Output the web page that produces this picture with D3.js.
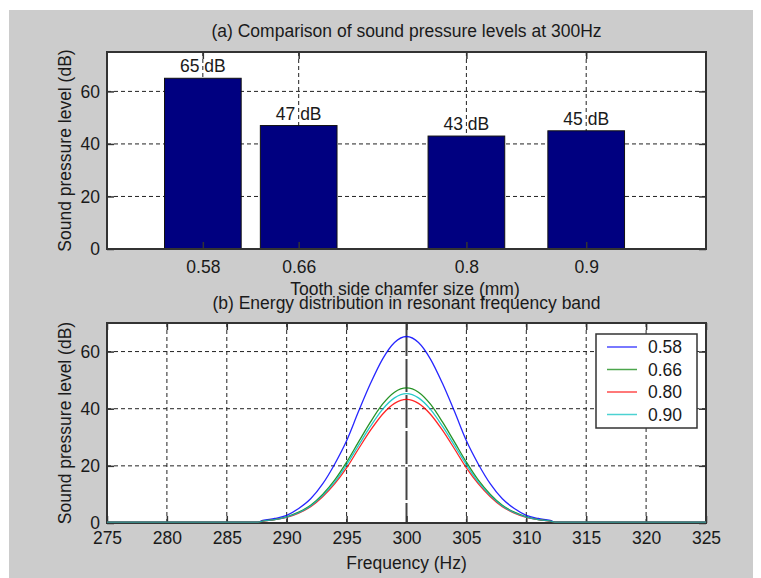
<!DOCTYPE html>
<html>
<head>
<meta charset="utf-8">
<script src="https://cdn.jsdelivr.net/npm/d3@7"></script>
<style>
  body { margin: 0; background: #fff; }
  text { font-family: "Liberation Sans", Arial, sans-serif; fill: #1a1a1a; }
</style>
</head>
<body>
<svg id="chart" width="761" height="578"></svg>
<script>
// ---------- Data ----------
const categories = [0.58, 0.66, 0.8, 0.9];
const categoryLabels = ["0.58", "0.66", "0.8", "0.9"];
const barValues = [65, 47, 43, 45];
const barLabels = ["65 dB", "47 dB", "43 dB", "45 dB"];
const barYTicks = [0, 20, 40, 60];

const freq = [275, 287.5, 288, 289, 290, 291, 292, 293, 294, 295, 296, 297, 298, 299, 300,
              301, 302, 303, 304, 305, 306, 307, 308, 309, 310, 311, 312, 312.5, 325];
const spl058 = [0, 0, 0.6, 1.3, 2.4, 4.8, 8.2, 13.4, 20.3, 28.5, 38.8, 48.6, 57.1, 62.9, 65,
                62.9, 57.1, 48.6, 38.8, 28.5, 20.3, 13.4, 8.2, 4.8, 2.4, 1.3, 0.6, 0, 0];
const spl066 = [0, 0, 0.4, 0.9, 1.9, 3.5, 5.9, 9.7, 14.7, 21.0, 28.1, 35.1, 41.3, 45.5, 47,
                45.5, 41.3, 35.1, 28.1, 21.0, 14.7, 9.7, 5.9, 3.5, 1.9, 0.9, 0.4, 0, 0];
const spl080 = [0, 0, 0.4, 0.9, 1.7, 3.2, 5.4, 8.9, 13.4, 19.0, 25.7, 32.2, 37.8, 41.6, 43,
                41.6, 37.8, 32.2, 25.7, 19.0, 13.4, 8.9, 5.4, 3.2, 1.7, 0.9, 0.4, 0, 0];
const spl090 = [0, 0, 0.4, 0.9, 1.8, 3.3, 5.7, 9.3, 14.0, 20.1, 26.9, 33.6, 39.5, 43.5, 45,
                43.5, 39.5, 33.6, 26.9, 20.1, 14.0, 9.3, 5.7, 3.3, 1.8, 0.9, 0.4, 0, 0];
const seriesNames = ["0.58", "0.66", "0.80", "0.90"];
const seriesColors = ["#0000ff", "#008000", "#ff0000", "#00bfbf"];
const freqTicks = [275, 280, 285, 290, 295, 300, 305, 310, 315, 320, 325];
const lineYTicks = [0, 20, 40, 60];

// ---------- Layout ----------
const svg = d3.select("#chart");
const FS = "17.5px";
svg.append("rect").attr("x", 9).attr("y", 10).attr("width", 744).attr("height", 568).attr("fill", "#cccccc");

const A = {left: 107, right: 706, top: 52, bottom: 249};
const B = {left: 107, right: 706, top: 323, bottom: 523};

// ---------- Top chart (bars) ----------
const xA = d3.scaleLinear().domain([0.5, 1.0]).range([A.left, A.right]);
const yA = d3.scaleLinear().domain([0, 75]).range([A.bottom, A.top]);
const gA = svg.append("g");
gA.append("rect").attr("x", A.left).attr("y", A.top).attr("width", A.right - A.left)
  .attr("height", A.bottom - A.top).attr("fill", "#fff");

// grid
gA.append("g").selectAll("line").data(categories).join("line")
  .attr("x1", d => xA(d)).attr("x2", d => xA(d)).attr("y1", A.top).attr("y2", A.bottom)
  .attr("stroke", "#222").attr("stroke-width", 1).attr("stroke-dasharray", "4,3");
gA.append("g").selectAll("line").data(barYTicks.filter(d => d > 0)).join("line")
  .attr("x1", A.left).attr("x2", A.right).attr("y1", d => yA(d)).attr("y2", d => yA(d))
  .attr("stroke", "#222").attr("stroke-width", 1).attr("stroke-dasharray", "4,3");

// bars
const barW = 0.064;
gA.append("g").selectAll("rect").data(barValues).join("rect")
  .attr("x", (d, i) => xA(categories[i] - barW / 2))
  .attr("width", (d, i) => xA(categories[i] + barW / 2) - xA(categories[i] - barW / 2))
  .attr("y", d => yA(d)).attr("height", d => yA(0) - yA(d))
  .attr("fill", "#000080").attr("stroke", "#111").attr("stroke-width", 1);

// bar labels
gA.append("g").selectAll("text").data(barValues).join("text")
  .attr("x", (d, i) => xA(categories[i])).attr("y", d => yA(d) - 6)
  .attr("text-anchor", "middle").style("font-size", FS).text((d, i) => barLabels[i]);

// axes
const tickLen = 7;
const axBottomA = d3.axisBottom(xA).tickValues(categories).tickFormat((d, i) => categoryLabels[i])
  .tickSizeInner(-tickLen).tickSizeOuter(0).tickPadding(12);
const axTopA = d3.axisTop(xA).tickValues(categories).tickFormat("").tickSizeInner(-tickLen).tickSizeOuter(0);
const axLeftA = d3.axisLeft(yA).tickValues(barYTicks).tickSizeInner(-tickLen).tickSizeOuter(0).tickPadding(7);
const axRightA = d3.axisRight(yA).tickValues(barYTicks).tickFormat("").tickSizeInner(-tickLen).tickSizeOuter(0);

function styleAxis(g) {
  g.select(".domain").remove();
  g.selectAll(".tick line").attr("stroke", "#333").attr("stroke-width", 1.5);
  g.selectAll(".tick text").style("font-size", FS).attr("fill", "#1a1a1a")
    .style("font-family", "'Liberation Sans', Arial, sans-serif");
}
gA.append("g").attr("transform", `translate(0,${A.bottom})`).call(axBottomA).call(styleAxis);
gA.append("g").attr("transform", `translate(0,${A.top})`).call(axTopA).call(styleAxis);
gA.append("g").attr("transform", `translate(${A.left},0)`).call(axLeftA).call(styleAxis);
gA.append("g").attr("transform", `translate(${A.right},0)`).call(axRightA).call(styleAxis);
gA.append("rect").attr("x", A.left).attr("y", A.top).attr("width", A.right - A.left)
  .attr("height", A.bottom - A.top).attr("fill", "none").attr("stroke", "#333").attr("stroke-width", 2);

svg.append("text").attr("x", (A.left + A.right) / 2).attr("y", 37).attr("text-anchor", "middle")
  .style("font-size", FS).text("(a) Comparison of sound pressure levels at 300Hz");
svg.append("text").attr("x", 405).attr("y", 295).attr("text-anchor", "middle")
  .style("font-size", FS).text("Tooth side chamfer size (mm)");
svg.append("text").attr("transform", `translate(71,${(A.top + A.bottom) / 2}) rotate(-90)`)
  .attr("text-anchor", "middle").style("font-size", FS).text("Sound pressure level (dB)");

// ---------- Bottom chart (lines) ----------
const xB = d3.scaleLinear().domain([275, 325]).range([B.left, B.right]);
const yB = d3.scaleLinear().domain([0, 70]).range([B.bottom, B.top]);
const gB = svg.append("g");
gB.append("rect").attr("x", B.left).attr("y", B.top).attr("width", B.right - B.left)
  .attr("height", B.bottom - B.top).attr("fill", "#fff");

gB.append("g").selectAll("line").data(freqTicks.filter(d => d > 275 && d < 325 && d !== 300)).join("line")
  .attr("x1", d => xB(d)).attr("x2", d => xB(d)).attr("y1", B.top).attr("y2", B.bottom)
  .attr("stroke", "#222").attr("stroke-width", 1).attr("stroke-dasharray", "4,3");
gB.append("g").selectAll("line").data(lineYTicks.filter(d => d > 0)).join("line")
  .attr("x1", B.left).attr("x2", B.right).attr("y1", d => yB(d)).attr("y2", d => yB(d))
  .attr("stroke", "#222").attr("stroke-width", 1).attr("stroke-dasharray", "4,3");
// long-dash marker at 300 Hz
gB.append("line").attr("x1", xB(300)).attr("x2", xB(300)).attr("y1", B.top).attr("y2", B.bottom)
  .attr("stroke", "#444").attr("stroke-width", 2).attr("stroke-dasharray", "33,3");

const axBottomB = d3.axisBottom(xB).tickValues(freqTicks).tickSizeInner(-tickLen).tickSizeOuter(0).tickPadding(9);
const axTopB = d3.axisTop(xB).tickValues(freqTicks).tickFormat("").tickSizeInner(-tickLen).tickSizeOuter(0);
const axLeftB = d3.axisLeft(yB).tickValues(lineYTicks).tickSizeInner(-tickLen).tickSizeOuter(0).tickPadding(7);
const axRightB = d3.axisRight(yB).tickValues(lineYTicks).tickFormat("").tickSizeInner(-tickLen).tickSizeOuter(0);
gB.append("g").attr("transform", `translate(0,${B.bottom})`).call(axBottomB).call(styleAxis);
gB.append("g").attr("transform", `translate(0,${B.top})`).call(axTopB).call(styleAxis);
gB.append("g").attr("transform", `translate(${B.left},0)`).call(axLeftB).call(styleAxis);
gB.append("g").attr("transform", `translate(${B.right},0)`).call(axRightB).call(styleAxis);
gB.append("rect").attr("x", B.left).attr("y", B.top).attr("width", B.right - B.left)
  .attr("height", B.bottom - B.top).attr("fill", "none").attr("stroke", "#333").attr("stroke-width", 2);

const allSeries = [spl058, spl066, spl080, spl090];
const line = d3.line().x((d, i) => xB(freq[i])).y(d => yB(d) - 0.8).curve(d3.curveMonotoneX);
gB.append("g").selectAll("path").data(allSeries).join("path")
  .attr("d", d => line(d)).attr("fill", "none")
  .attr("stroke", (d, i) => seriesColors[i]).attr("stroke-width", 1.3).attr("stroke-opacity", 0.85);

svg.append("text").attr("x", (B.left + B.right) / 2).attr("y", 309).attr("text-anchor", "middle")
  .style("font-size", FS).text("(b) Energy distribution in resonant frequency band");
svg.append("text").attr("x", (B.left + B.right) / 2).attr("y", 569).attr("text-anchor", "middle")
  .style("font-size", FS).text("Frequency (Hz)");
svg.append("text").attr("transform", `translate(71,${(B.top + B.bottom) / 2}) rotate(-90)`)
  .attr("text-anchor", "middle").style("font-size", FS).text("Sound pressure level (dB)");

// legend
const lg = svg.append("g");
lg.append("rect").attr("x", 596).attr("y", 334).attr("width", 101).attr("height", 94)
  .attr("fill", "#fff").attr("stroke", "#333").attr("stroke-width", 1.5);
const rowY = [347, 369.5, 392, 414.5];
seriesNames.forEach((name, i) => {
  lg.append("line").attr("x1", 607).attr("x2", 637).attr("y1", rowY[i]).attr("y2", rowY[i])
    .attr("stroke", seriesColors[i]).attr("stroke-width", 1.5).attr("stroke-opacity", 0.7);
  lg.append("text").attr("x", 648).attr("y", rowY[i]).attr("dy", "0.35em")
    .style("font-size", FS).text(name);
});
</script>
</body>
</html>
